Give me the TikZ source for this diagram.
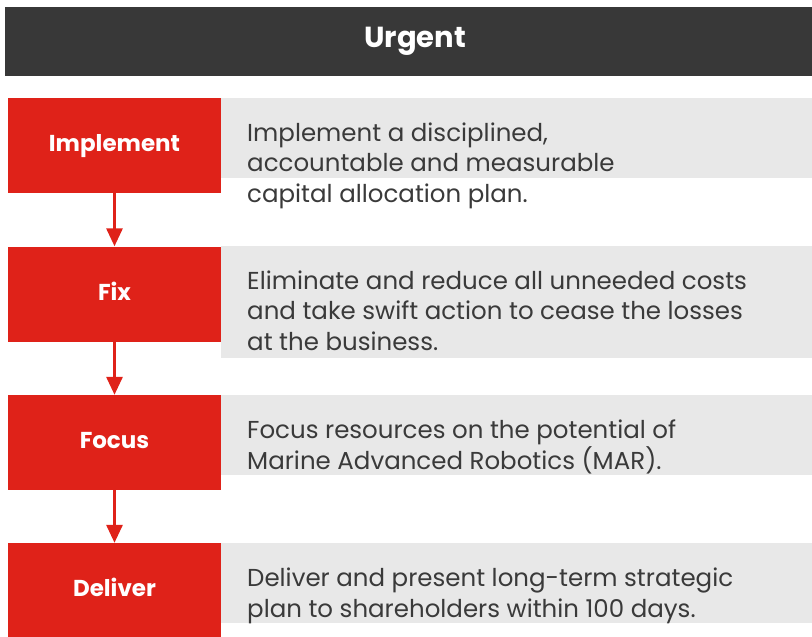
\documentclass[tikz,border=0pt]{standalone}
\usepackage{fontspec}
\setmainfont{Poppins}
\usepackage{tikz}
\usepackage{xcolor}
\usetikzlibrary{arrows.meta,positioning}

\definecolor{urgentred}{HTML}{DF2219}
\definecolor{headgray}{HTML}{383838}
\definecolor{panelgray}{HTML}{E8E8E8}
\definecolor{bodytext}{HTML}{3A3A3A}

\begin{document}
\begin{tikzpicture}[x=1pt,y=-1pt,
    stepbox/.style={fill=urgentred, text=white, inner sep=0pt,
        minimum width=213pt, minimum height=95pt,
        text height=17pt, text depth=5pt,
        font=\bfseries\fontsize{23}{27}\selectfont},
    panel/.style={fill=panelgray, anchor=north west, inner sep=0pt,
        minimum width=600pt},
    note/.style={anchor=base west, align=left, inner sep=0pt, text=bodytext,
        font=\fontsize{24.5}{30.5}\selectfont},
    flow/.style={urgentred, line width=3pt, -{Triangle[length=18pt,width=16pt]}}]

    \useasboundingbox (0,0) rectangle (812,637);

    % Header bar
    \node[fill=headgray, anchor=north west, inner sep=0pt,
        minimum width=820pt, minimum height=69pt, text=white,
        font=\bfseries\fontsize{29}{33}\selectfont] (urgent) at (5,7) {Urgent};

    % Grey panels
    \node[panel, minimum height=80pt] (implementpanel) at (221,98) {};
    \node[panel, minimum height=112pt] (fixpanel) at (221,246) {};
    \node[panel, minimum height=80pt] (focuspanel) at (221,395) {};
    \node[panel, minimum height=80pt] (deliverpanel) at (221,543) {};

    % Steps
    \node[stepbox] (implement) at (114.5,145.5) {Implement};
    \node[stepbox] (fix) at (114.5,294) {Fix};
    \node[stepbox] (focus) at (114.5,442.5) {Focus};
    \node[stepbox] (deliver) at (114.5,590.5) {Deliver};

    % Arrows between steps
    \draw[flow] (implement) -- (fix);
    \draw[flow] (fix) -- (focus);
    \draw[flow] (focus) -- (deliver);

    % Descriptions (base = last line)
    \node[note] (implementnote) at (247,202)
        {Implement a disciplined,\\accountable and measurable\\capital allocation plan.};
    \node[note] (fixnote) at (247,350)
        {Eliminate and reduce all unneeded costs\\and take swift action to cease the losses\\at the business.};
    \node[note] (focusnote) at (247,469)
        {Focus resources on the potential of\\Marine Advanced Robotics (MAR).};
    \node[note] (delivernote) at (247,617)
        {Deliver and present long-term strategic\\plan to shareholders within 100 days.};

\end{tikzpicture}
\end{document}
